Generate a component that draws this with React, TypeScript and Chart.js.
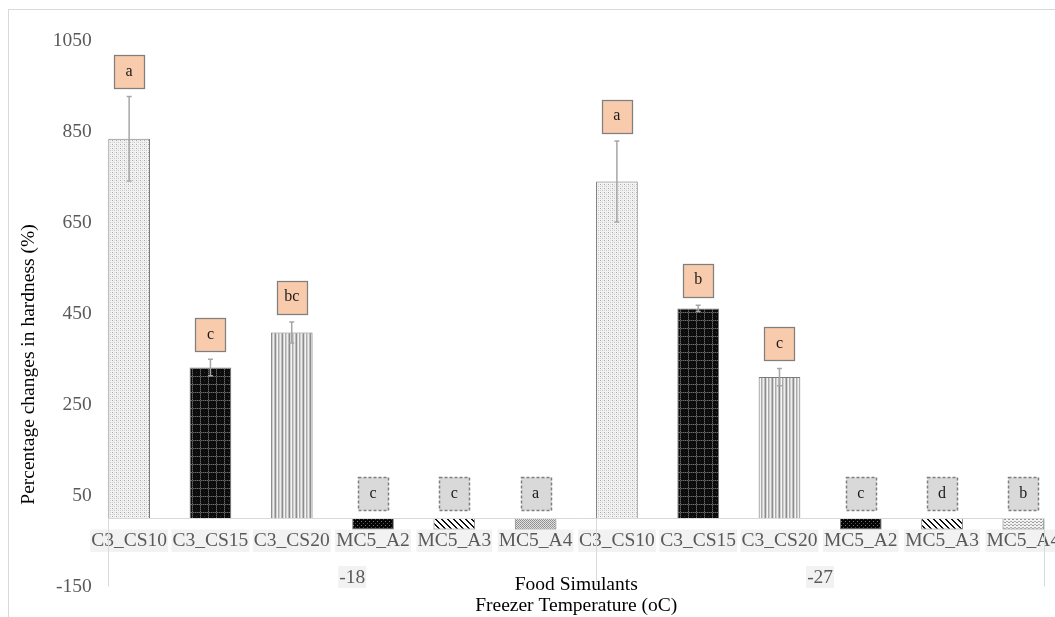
import { useEffect, useRef } from "react";
import { Chart, registerables } from "chart.js";

Chart.register(...registerables);

// Freezer temperatures (outer category level) and food simulants (inner level)
const groups = ["-18", "-27"];
const simulants = ["C3_CS10", "C3_CS15", "C3_CS20", "MC5_A2", "MC5_A3", "MC5_A4"];

// Percentage change in hardness per simulant, one array per temperature
const hardness18 = [835, 332, 409, -24, -24, -24];
const hardness27 = [741, 462, 311, -24, -24, -24];

// Standard deviations (error bars)
const error18 = [93, 18, 23, 0, 0, 0];
const error27 = [89, 7, 19, 0, 0, 0];

// Significance letters shown above each bar
const letters18 = ["a", "c", "bc", "c", "c", "a"];
const letters27 = ["a", "b", "c", "c", "d", "b"];

// Value axis ticks
const yMin = -150;
const yMax = 1050;
const yStep = 200;

const yTitle = "Percentage changes in hardness (%)";
const xTitles = ["Food Simulants", "Freezer Temperature (oC)"];

const SERIF = "'Liberation Serif', 'Times New Roman', serif";
const TICK_COLOR = "#595959";
const LINE_COLOR = "#d9d9d9";

const labels = groups.flatMap(() => simulants);
const values = [...hardness18, ...hardness27];
const errors = [...error18, ...error27];
const letters = [...letters18, ...letters27];

type Painter = (g: CanvasRenderingContext2D) => void;

function tile(w: number, h: number, paint: Painter): CanvasPattern {
  const c = document.createElement("canvas");
  c.width = w;
  c.height = h;
  const g = c.getContext("2d")!;
  paint(g);
  return g.createPattern(c, "repeat")!;
}

function px(g: CanvasRenderingContext2D, x: number, y: number, color: string) {
  g.fillStyle = color;
  g.fillRect(x, y, 1, 1);
}

function makeFills(): CanvasPattern[] {
  // fine light dots
  const dots = tile(4, 4, (g) => {
    g.fillStyle = "#f3f3f3";
    g.fillRect(0, 0, 4, 4);
    px(g, 0, 0, "#a9a9a9");
    px(g, 2, 2, "#c4c4c4");
    px(g, 0, 2, "#d2d2d2");
    px(g, 2, 0, "#dcdcdc");
    px(g, 1, 1, "#e6e6e6");
  });
  // dark plaid
  const plaid = tile(8, 8, (g) => {
    g.fillStyle = "#0c0c0c";
    g.fillRect(0, 0, 8, 8);
    for (let i = 0; i < 8; i++) {
      px(g, i, 0, i % 2 ? "#6a6a6a" : "#3a3a3a");
      px(g, 0, i, i % 2 ? "#6a6a6a" : "#3a3a3a");
    }
    px(g, 4, 4, "#2e2e2e");
  });
  // vertical stripes
  const stripes = tile(7, 1, (g) => {
    const cols = ["#eeeeee", "#bdbdbd", "#8c8c8c", "#d4d4d4", "#f5f5f5", "#aaaaaa", "#cfcfcf"];
    cols.forEach((c, i) => px(g, i, 0, c));
  });
  // black with small dots
  const darkDots = tile(4, 4, (g) => {
    g.fillStyle = "#050505";
    g.fillRect(0, 0, 4, 4);
    px(g, 1, 1, "#7a7a7a");
    px(g, 3, 3, "#505050");
  });
  // wide downward diagonal
  const diagonal = tile(6, 6, (g) => {
    g.fillStyle = "#ffffff";
    g.fillRect(0, 0, 6, 6);
    for (let y = 0; y < 6; y++)
      for (let x = 0; x < 6; x++)
        if ((x - y + 6) % 6 < 2) px(g, x, y, "#111111");
  });
  // small checker
  const checker = tile(2, 2, (g) => {
    px(g, 0, 0, "#8a8a8a");
    px(g, 1, 1, "#9a9a9a");
    px(g, 1, 0, "#e2e2e2");
    px(g, 0, 1, "#e2e2e2");
  });
  // light dashed
  const dashed = tile(4, 3, (g) => {
    g.fillStyle = "#f2f2f2";
    g.fillRect(0, 0, 4, 3);
    px(g, 0, 0, "#9a9a9a");
    px(g, 1, 0, "#9a9a9a");
    px(g, 2, 2, "#b0b0b0");
    px(g, 3, 2, "#b0b0b0");
  });
  return [dots, plaid, stripes, darkDots, diagonal, checker, dots, plaid, stripes, darkDots, diagonal, dashed];
}

const decorations = {
  id: "decorations",
  afterDatasetsDraw(chart: any) {
    const ctx: CanvasRenderingContext2D = chart.ctx;
    const bars = chart.getDatasetMeta(0).data as any[];
    const y = chart.scales.y;
    const y0 = y.getPixelForValue(0);
    const area = chart.chartArea;
    const left = (i: number) => bars[i].x - bars[i].width / 2;
    const right = (i: number) => bars[i].x + bars[i].width / 2;
    const n = simulants.length;
    const last = bars.length - 1;

    ctx.save();

    // value axis tick labels (plain numbers, right-aligned)
    ctx.font = `19.5px ${SERIF}`;
    ctx.fillStyle = TICK_COLOR;
    ctx.textAlign = "right";
    ctx.textBaseline = "middle";
    y.ticks.forEach((t: any) => {
      ctx.fillText(String(t.value), area.left + 3.3, y.getPixelForValue(t.value));
    });

    // category axis line
    ctx.strokeStyle = LINE_COLOR;
    ctx.lineWidth = 1;
    ctx.beginPath();
    ctx.moveTo(left(0), Math.round(y0) + 0.5);
    ctx.lineTo(right(last), Math.round(y0) + 0.5);
    ctx.stroke();

    // group dividers
    const cuts = groups.map((_, g) => left(g * n));
    cuts.push(right(last));
    ctx.beginPath();
    cuts.forEach((x) => {
      const xx = Math.round(x) + 0.5;
      ctx.moveTo(xx, y0);
      ctx.lineTo(xx, y0 + 68);
    });
    ctx.stroke();

    // group labels
    ctx.font = `19.5px ${SERIF}`;
    ctx.textAlign = "center";
    ctx.textBaseline = "middle";
    groups.forEach((label, g) => {
      const cx = (cuts[g] + cuts[g + 1]) / 2;
      const cy = y0 + 58.5;
      const w = ctx.measureText(label).width + 2;
      ctx.fillStyle = "#f2f2f2";
      ctx.fillRect(cx - w / 2, cy - 11, w, 22);
      ctx.fillStyle = TICK_COLOR;
      ctx.fillText(label, cx, cy + 1);
    });

    // error bars
    ctx.strokeStyle = "#a6a6a6";
    ctx.lineWidth = 1.5;
    bars.forEach((bar, i) => {
      const e = errors[i];
      if (!e) return;
      const top = y.getPixelForValue(values[i] + e);
      const bot = y.getPixelForValue(values[i] - e);
      ctx.beginPath();
      ctx.moveTo(bar.x, top);
      ctx.lineTo(bar.x, bot);
      ctx.moveTo(bar.x - 2.5, top);
      ctx.lineTo(bar.x + 2.5, top);
      ctx.moveTo(bar.x - 2.5, bot);
      ctx.lineTo(bar.x + 2.5, bot);
      ctx.stroke();
    });

    // significance letter boxes
    bars.forEach((bar, i) => {
      const anchor = y.getPixelForValue(Math.max(values[i] + errors[i], 0));
      const cy = anchor - 25;
      const w = 30;
      const h = 33;
      const bx = Math.round(bar.x - w / 2) + 0.5;
      const by = Math.round(cy - h / 2) + 0.5;
      const solid = labels[i].startsWith("C3");
      ctx.fillStyle = solid ? "#f8cbad" : "#d9d9d9";
      ctx.fillRect(bx, by, w, h);
      ctx.strokeStyle = "#7f7f7f";
      ctx.lineWidth = solid ? 1.25 : 1.5;
      ctx.setLineDash(solid ? [] : [3, 2]);
      ctx.strokeRect(bx, by, w, h);
      ctx.setLineDash([]);
      ctx.fillStyle = "#1a1a1a";
      ctx.font = `16px ${SERIF}`;
      ctx.textAlign = "center";
      ctx.textBaseline = "middle";
      ctx.fillText(letters[i], bar.x, cy);
    });

    // axis titles
    ctx.fillStyle = "#000000";
    ctx.font = `19.5px ${SERIF}`;
    ctx.textAlign = "center";
    ctx.textBaseline = "middle";
    const cx = (area.left + area.right) / 2;
    ctx.fillText(xTitles[0], cx, y0 + 66);
    ctx.fillText(xTitles[1], cx, y0 + 87);

    ctx.translate(29, y0 - 154);
    ctx.rotate(-Math.PI / 2);
    ctx.fillText(yTitle, 0, 0);

    ctx.restore();
  },
};

export default function App() {
  const ref = useRef<HTMLCanvasElement>(null);

  useEffect(() => {
    const canvas = ref.current!;
    const fills = makeFills();
    const chart = new Chart(canvas, {
      type: "bar",
      data: {
        labels,
        datasets: [
          {
            data: values,
            backgroundColor: fills,
            borderColor: "#7a7a7a",
            borderWidth: 1,
            barPercentage: 0.513,
            categoryPercentage: 1,
          },
        ],
      },
      options: {
        responsive: false,
        animation: false,
        devicePixelRatio: 1,
        layout: { padding: { left: 0, right: 36, top: 41, bottom: 30.3 } },
        plugins: {
          legend: { display: false },
          tooltip: { enabled: false },
        },
        scales: {
          x: {
            type: "category",
            position: { y: 0 } as any,
            grid: { display: false, drawTicks: false },
            border: { display: false },
            ticks: {
              autoSkip: false,
              maxRotation: 0,
              minRotation: 0,
              padding: 11,
              color: TICK_COLOR,
              font: { family: SERIF, size: 19.5, lineHeight: 1.15 },
              showLabelBackdrop: true,
              backdropColor: "#f2f2f2",
              backdropPadding: { x: 1, y: 0 },
            } as any,
            afterFit: (s: any) => {
              s.height = 0;
            },
          },
          y: {
            type: "linear",
            min: yMin,
            max: yMax,
            grid: { display: false, drawTicks: false },
            border: { display: false },
            ticks: {
              stepSize: yStep,
              display: false,
            },
            afterFit: (s: any) => {
              s.width = 88.5;
            },
          },
        },
      },
      plugins: [decorations],
    });
    return () => chart.destroy();
  }, []);

  return (
    <div
      style={{
        position: "fixed",
        left: 0,
        top: 0,
        width: "100vw",
        height: "100vh",
        overflow: "hidden",
        background: "#ffffff",
      }}
    >
      <div
        style={{
          position: "absolute",
          left: 8,
          top: 9,
          width: 2000,
          height: 2000,
          borderTop: `1px solid ${LINE_COLOR}`,
          borderLeft: `1px solid ${LINE_COLOR}`,
        }}
      />
      <canvas
        ref={ref}
        width={1100}
        height={617}
        style={{ position: "absolute", left: 0, top: 0, width: 1100, height: 617 }}
      />
    </div>
  );
}
